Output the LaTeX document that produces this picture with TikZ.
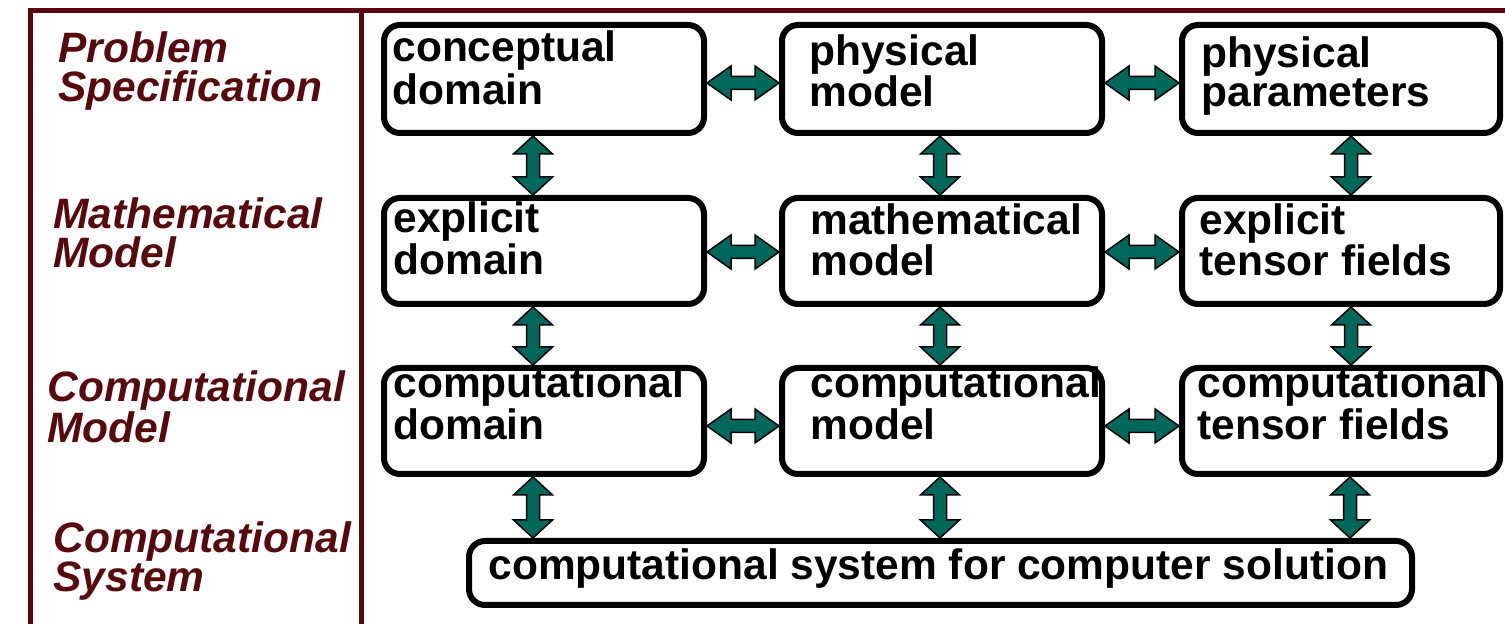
\documentclass[tikz,border=0pt]{standalone}
\usepackage{fontspec}
\setmainfont{Liberation Sans}
\usetikzlibrary{calc}
\definecolor{maroon}{RGB}{88,8,12}
\definecolor{teal}{RGB}{0,104,90}
\tikzset{
  box/.style={draw=black, line width=3pt, rounded corners=8pt, fill=white, inner sep=0pt},
  boxtext/.style={anchor=base west, inner sep=0pt, align=left, text=black,
    font=\fontsize{21.25}{#1}\selectfont\bfseries},
  leveltext/.style={anchor=base west, inner sep=0pt, align=left, text=maroon,
    font=\fontsize{21.25}{#1}\selectfont\bfseries\itshape},
  barrow/.style={draw=black, line width=0.75pt, fill=teal, line join=miter},
  frame/.style={draw=maroon, line width=2.5pt}
}
% horizontal block double arrow between two named boxes, shifted #3 px down
\newcommand\hbarrow[3]{%
  \draw[barrow] let \p1=($(#1.east)+(0,#3)$), \p2=(#2.west) in
   (\x1,\y1) -- (\x1+12pt,\y1+8.5pt) -- (\x1+12pt,\y1+3.25pt) -- (\x2-12pt,\y1+3.25pt)
   -- (\x2-12pt,\y1+8.5pt) -- (\x2,\y1) -- (\x2-12pt,\y1-8.5pt) -- (\x2-12pt,\y1-3.25pt)
   -- (\x1+12pt,\y1-3.25pt) -- (\x1+12pt,\y1-8.5pt) -- cycle;}
% vertical block double arrow between two named boxes, shifted #3 px right
\newcommand\vbarrow[3]{%
  \draw[barrow] let \p1=($(#1.south)+(#3,0)$), \p2=(#2.north) in
   (\x1,\y1) -- (\x1+9.75pt,\y1-9pt) -- (\x1+3.25pt,\y1-9pt) -- (\x1+3.25pt,\y2+9pt)
   -- (\x1+9.75pt,\y2+9pt) -- (\x1,\y2) -- (\x1-9.75pt,\y2+9pt) -- (\x1-3.25pt,\y2+9pt)
   -- (\x1-3.25pt,\y1-9pt) -- (\x1-9.75pt,\y1-9pt) -- cycle;}
\begin{document}
\begin{tikzpicture}[x=0.5pt,y=-0.5pt]
\useasboundingbox (0,0) rectangle (1505,624);
\fill[white] (0,0) rectangle (1505,624);
% frame
\draw[frame, line join=miter] (30.5,624) -- (30.5,10.5) -- (1505,10.5);
\draw[frame] (361.5,10.5) -- (361.5,624);
% level labels (anchor = baseline of last line)
\node[leveltext=19.25] (lab1) at (58,101.5) {Problem\\Specification};
\node[leveltext=19.5] (lab2) at (53,268) {Mathematical\\Model};
\node[leveltext=19.5] (lab3) at (47,443) {Computational\\Model};
\node[leveltext=19.5] (lab4) at (53,592) {Computational\\System};
% boxes (centre line coordinates)
\node[box, minimum width=160pt, minimum height=54pt] (b11) at (544,79) {};
\node[box, minimum width=160pt, minimum height=54pt] (b12) at (942,79) {};
\node[box, minimum width=159pt, minimum height=54pt] (b13) at (1341,79) {};
\node[box, minimum width=160pt, minimum height=53pt] (b21) at (544,251) {};
\node[box, minimum width=160pt, minimum height=53pt] (b22) at (942,251) {};
\node[box, minimum width=159pt, minimum height=53pt] (b23) at (1341,251) {};
\node[box, minimum width=160pt, minimum height=53pt] (b31) at (544,421) {};
\node[box, minimum width=160pt, minimum height=53pt] (b32) at (942,421) {};
\node[box, minimum width=159pt, minimum height=53pt] (b33) at (1341,421) {};
\node[box, minimum width=471.5pt, minimum height=32pt] (b4) at (940.5,573) {};
% box texts (anchor = baseline of last line)
\node[boxtext=21.5] (t11) at (392,105) {conceptual\\domain};
\node[boxtext=19.5] (t12) at (809,107) {physical\\model};
\node[boxtext=19.5] (t13) at (1201,107) {physical\\parameters};
\node[boxtext=21] (t21) at (393,275) {explicit\\domain};
\node[boxtext=20.5] (t22) at (810,276) {mathematical\\model};
\node[boxtext=20.5] (t23) at (1199,276) {explicit\\tensor fields};
\node[boxtext=21] (t31) at (393,440) {computational\\domain};
\node[boxtext=21] (t32) at (810,440) {computational\\model};
\node[boxtext=21] (t33) at (1197,440) {computational\\tensor fields};
\node[boxtext=21] (t4) at (488,580) {computational system for computer solution};
% horizontal arrows
\hbarrow{b11}{b12}{4}
\hbarrow{b12}{b13}{4}
\hbarrow{b21}{b22}{1}
\hbarrow{b22}{b23}{1}
\hbarrow{b31}{b32}{5}
\hbarrow{b32}{b33}{5}
% vertical arrows
\vbarrow{b11}{b21}{-11}
\vbarrow{b12}{b22}{-2}
\vbarrow{b13}{b23}{10}
\vbarrow{b21}{b31}{-11}
\vbarrow{b22}{b32}{-2}
\vbarrow{b23}{b33}{10}
\vbarrow{b31}{b4}{-11}
\vbarrow{b32}{b4}{-2}
\vbarrow{b33}{b4}{9}
\end{tikzpicture}
\end{document}
